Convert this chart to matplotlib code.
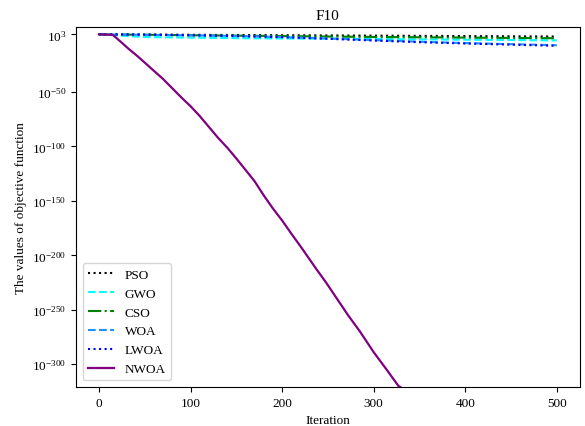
import numpy as np
import matplotlib
matplotlib.use("Agg")
import matplotlib.pyplot as plt
from matplotlib.ticker import NullLocator

plt.rcParams['font.family'] = ['Liberation Serif', 'DejaVu Serif']
plt.rcParams['mathtext.fontset'] = 'stix'

# Iterations at which the slowly-converging curves are sampled
iters_top = [0, 50, 100, 150, 200, 250, 300, 350, 400, 450, 500]
# log10 of objective values
pso_exp  = [3.0, 2.8, 2.6, 2.4, 2.2, 2.0, 1.8, 1.6, 1.4, 1.2, 1.0]
gwo_exp  = [3.0, 0.5, 0.0, -0.5, -0.8, -1.0, -1.3, -1.6, -1.9, -2.2, -2.6]
cso_exp  = [3.0, 2.6, 2.2, 1.8, 1.4, 1.0, 0.6, 0.3, 0.0, -0.3, -0.6]
woa_exp  = [3.0, 2.6, 2.1, 1.5, 0.6, -0.8, -2.3, -3.8, -5.0, -6.0, -7.0]
lwoa_exp = [3.0, 2.7, 2.2, 1.4, 0.4, -1.1, -2.7, -4.2, -5.4, -6.5, -7.5]

nwoa_iters = [0, 15, 20, 32, 42, 50, 60, 70, 80, 90, 100, 110, 120, 130, 140,
              150, 160, 170, 180, 190, 200, 210, 222, 236, 248, 260, 272, 285,
              300, 315, 327, 333]
nwoa_exp = [3.0, 2.5, -1.0, -10.0, -17.0, -23.0, -30.5, -38.0, -46.5, -55.0,
            -63.0, -72.0, -82.0, -92.0, -101.0, -111.0, -121.5, -132.0, -145.0,
            -157.0, -168.0, -180.0, -194.0, -211.0, -225.0, -240.0, -255.0,
            -270.0, -289.0, -306.0, -320.0, -323.0]

labels = ['PSO', 'GWO', 'CSO', 'WOA', 'LWOA', 'NWOA']
ytick_exps = [3, -50, -100, -150, -200, -250, -300]

fig = plt.figure(figsize=(5.85, 4.27), dpi=100)
ax = fig.add_axes([0.130, 0.0913, 0.861, 0.843])

def vals(e):
    return [10.0 ** v for v in e]

ax.plot(iters_top, vals(pso_exp), color='black', linestyle=':', lw=1.5, label=labels[0])
ax.plot(iters_top, vals(gwo_exp), color='cyan', linestyle='--', lw=1.5, label=labels[1])
ax.plot(iters_top, vals(cso_exp), color='green', linestyle='-.', lw=1.5, label=labels[2])
ax.plot(iters_top, vals(woa_exp), color='dodgerblue', linestyle='--', lw=1.5, label=labels[3])
ax.plot(iters_top, vals(lwoa_exp), color='blue', linestyle=':', lw=1.5, label=labels[4])
ax.plot(nwoa_iters, vals(nwoa_exp), color='purple', linestyle='-', lw=1.6, label=labels[5])

ax.set_yscale('log')
ax.set_xlim(-25, 525)
ax.set_ylim(1e-321, 5e9)
ax.set_yticks([10.0 ** e for e in ytick_exps])
ax.yaxis.set_minor_locator(NullLocator())
ax.set_xticks([0, 100, 200, 300, 400, 500])
ax.tick_params(labelsize=9.5)

ax.set_title('F10', fontsize=11)
ax.set_xlabel('Iteration', fontsize=9.5)
ax.set_ylabel('The values of objective function', fontsize=9.5)
ax.legend(loc='lower left', fontsize=9.5)

fig.savefig('out.png', dpi=100)
